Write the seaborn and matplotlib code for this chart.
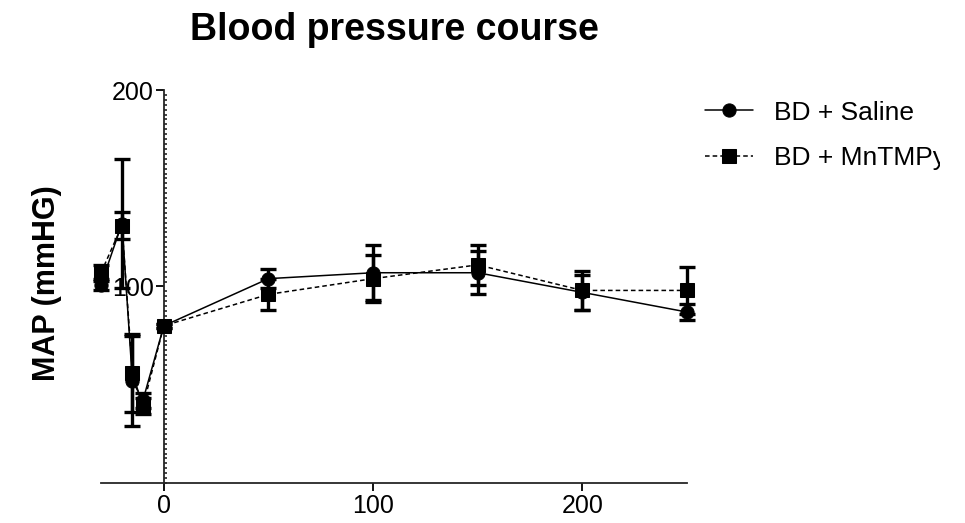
import matplotlib
matplotlib.use('Agg')
import matplotlib.pyplot as plot
from matplotlib.ticker import FixedLocator, MultipleLocator
from matplotlib.transforms import Bbox
import numpy as np
import pandas as pd
import seaborn as sns

# time points (min) and MAP mean +/- SEM
time = [-30, -20, -15, -10, 0, 50, 100, 150, 200, 250]
saline_map = [101, 132, 52, 42, 80, 104, 107, 107, 97, 87]
saline_sem = [3, 33, 23, 4, 1, 5, 14, 11, 9, 4]
mntmpyp_map = [107, 131, 56, 39, 80, 96, 104, 111, 98, 98]
mntmpyp_sem = [4, 7, 20, 4, 1, 8, 12, 10, 10, 12]

groups = ['BD + Saline', 'BD + MnTMPyP']
x_ticks = [0, 100, 200]
y_ticks = [100, 200]

df = pd.concat([
    pd.DataFrame({'time': time, 'MAP': saline_map, 'sem': saline_sem, 'group': groups[0]}),
    pd.DataFrame({'time': time, 'MAP': mntmpyp_map, 'sem': mntmpyp_sem, 'group': groups[1]}),
], ignore_index=True)

sns.set_style('ticks')
plot.rcParams['font.family'] = ['Liberation Sans', 'DejaVu Sans']
plot.rcParams['text.color'] = 'black'
plot.rcParams['axes.labelcolor'] = 'black'

fig = plot.figure(figsize=(9.65, 5.23), dpi=100)
ax = fig.add_axes([0.1047, 0.0765, 0.6073, 0.7514])

# error bars first, lines and markers on top
for g in groups:
    sub = df[df['group'] == g]
    eb = ax.errorbar(sub['time'], sub['MAP'], yerr=sub['sem'], fmt='none', ecolor='black',
                     elinewidth=2.4, capsize=6, capthick=2.4, zorder=3)
    for child in eb.get_children():
        child.set_clip_on(False)

sns.lineplot(data=df, x='time', y='MAP', style='group', color='black',
             markers={groups[0]: 'o', groups[1]: 's'},
             dashes={groups[0]: '', groups[1]: (3, 2)},
             markersize=9.5, linewidth=1.1, markeredgecolor='black',
             errorbar=None, ax=ax, zorder=4)
for line in ax.lines:
    line.set_clip_on(False)

ax.set_xlim(-30, 250)
ax.set_ylim(0, 200)
ax.spines['right'].set_visible(False)
ax.spines['top'].set_visible(False)
ax.spines['left'].set_position(('data', 0))
ax.spines['left'].set_linewidth(1.3)
ax.spines['bottom'].set_linewidth(1.3)
ax.xaxis.set_major_locator(FixedLocator(x_ticks))
ax.yaxis.set_major_locator(FixedLocator(y_ticks))
ax.yaxis.set_minor_locator(MultipleLocator(2.5))
ax.tick_params(axis='both', which='major', labelsize=18, length=6, width=1.3, direction='out',
               colors='black', labelcolor='black')
ax.tick_params(axis='y', which='minor', length=2, width=1.2, direction='in')
ax.tick_params(axis='y', which='major', pad=1)
ax.tick_params(axis='x', which='major', pad=2)

ax.set_xlabel('')
ax.set_ylabel('MAP (mmHG)', fontsize=22, fontweight='bold')
ax.yaxis.set_label_coords(0.064, 0.459, transform=fig.transFigure)
ax.set_title('Blood pressure course', fontsize=27, fontweight='bold', pad=36)

leg = ax.legend(loc='upper left', bbox_to_anchor=(0.706, 0.853), bbox_transform=fig.transFigure,
                frameon=False, fontsize=19, handlelength=1.8, handletextpad=0.8, labelspacing=0.8)
# the original legend is cut off at the right edge of the panel
for txt in leg.get_texts():
    txt.set_clip_box(Bbox([[0, 0], [940, 523]]))
    txt.set_clip_on(True)

fig.savefig('out.png', dpi=100)
